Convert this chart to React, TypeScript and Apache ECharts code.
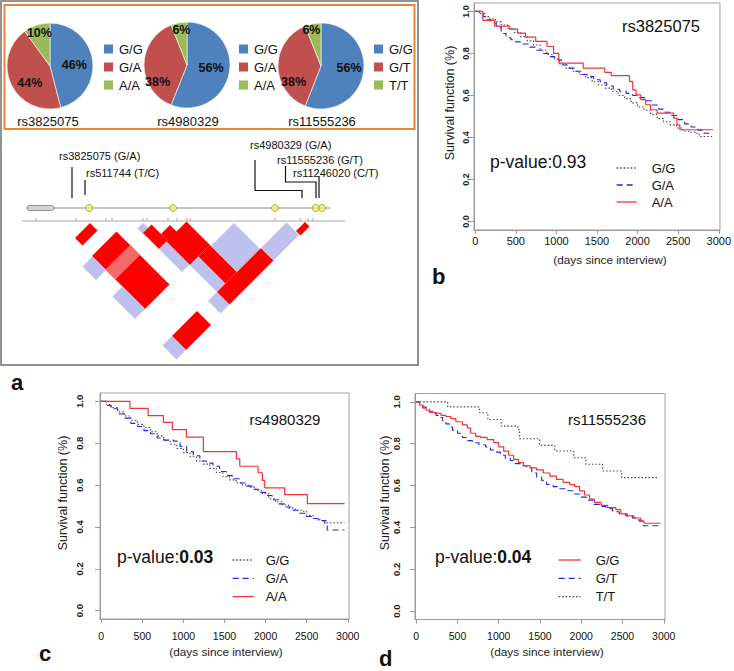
import React, { useEffect, useRef } from 'react';
import * as echarts from 'echarts';

// ---------------- data ----------------
const pieSnps = ['rs3825075', 'rs4980329', 'rs11555236'];
const pieGenotypes = [
  ['G/G', 'G/A', 'A/A'],
  ['G/G', 'G/A', 'A/A'],
  ['G/G', 'G/T', 'T/T'],
];
const piePercents = [
  [46, 44, 10],
  [56, 38, 6],
  [56, 38, 6],
];

const snpAnnotations = ['rs3825075 (G/A)', 'rs511744 (T/C)', 'rs4980329 (G/A)', 'rs11555236 (G/T)', 'rs11246020 (C/T)'];
const snpPositions = [89, 173, 275, 316, 322];
const markerPositions = [36, 76, 106, 112, 143, 147, 168, 177, 187, 190, 275, 300, 308, 313];
// LD blocks: [left marker from, left marker to, right marker from, right marker to, level]
const ldBlocks = [
  [60, 90, 90, 105, 0],
  [59, 108, 125, 231, 0],
  [59, 108, 152, 172, 1],
  [39, 59, 126, 153, 2],
  [39, 59, 186, 231, 2],
  [132, 143, 143, 155, 2],
  [133, 150, 153, 185, 0],
  [150, 168, 172, 186, 0],
  [133, 148, 185, 231, 2],
  [148, 188, 185, 232, 0],
  [148, 165, 232, 286, 2],
  [165, 188, 232, 286, 0],
  [188, 234, 234, 286, 2],
  [130, 148, 286, 311, 2],
  [148, 236, 286, 311, 0],
  [236, 287, 286, 311, 2],
  [288, 306, 304, 313, 0],
  [59, 109, 285, 313, 0],
  [40, 59, 285, 313, 2],
];

const dayTicks = [0, 500, 1000, 1500, 2000, 2500, 3000];
const survTicks = [0, 0.2, 0.4, 0.6, 0.8, 1.0];

// panel b: rs3825075
const bGG = [[0,1],[60,0.99],[120,0.975],[180,0.965],[250,0.95],[320,0.935],[400,0.92],[480,0.9],[560,0.88],[640,0.86],[720,0.84],[800,0.815],[880,0.795],[960,0.775],[1040,0.75],[1120,0.73],[1200,0.715],[1280,0.7],[1360,0.685],[1440,0.665],[1520,0.65],[1600,0.635],[1680,0.62],[1760,0.6],[1840,0.585],[1920,0.565],[2000,0.545],[2080,0.53],[2160,0.51],[2240,0.49],[2320,0.475],[2400,0.46],[2480,0.445],[2560,0.43],[2640,0.425],[2720,0.42],[2760,0.405],[2930,0.405]];
const bGA = [[0,1],[50,0.99],[100,0.975],[150,0.96],[200,0.945],[260,0.925],[320,0.895],[380,0.875],[440,0.865],[500,0.855],[580,0.845],[660,0.83],[740,0.815],[820,0.8],[900,0.785],[980,0.77],[1060,0.745],[1140,0.73],[1220,0.715],[1300,0.7],[1380,0.69],[1460,0.675],[1540,0.66],[1620,0.645],[1700,0.63],[1780,0.62],[1860,0.61],[1940,0.6],[2020,0.59],[2100,0.575],[2180,0.555],[2260,0.535],[2340,0.52],[2420,0.505],[2500,0.485],[2580,0.465],[2660,0.45],[2740,0.435],[2820,0.42],[2930,0.42]];
const bAA = [[0,1],[95,0.957],[240,0.93],[420,0.916],[520,0.897],[620,0.878],[745,0.857],[885,0.833],[965,0.8],[1030,0.754],[1330,0.73],[1595,0.71],[1675,0.694],[1900,0.667],[1940,0.627],[1980,0.603],[2040,0.58],[2100,0.556],[2160,0.532],[2240,0.516],[2445,0.492],[2485,0.46],[2520,0.437],[2930,0.437]];

// panel c: rs4980329
const cGG = [[0,1],[60,0.985],[120,0.97],[200,0.95],[280,0.93],[360,0.91],[440,0.89],[520,0.875],[600,0.855],[680,0.835],[760,0.815],[840,0.795],[920,0.775],[1000,0.755],[1080,0.735],[1160,0.715],[1240,0.7],[1320,0.68],[1400,0.66],[1480,0.64],[1560,0.625],[1640,0.61],[1720,0.6],[1800,0.59],[1880,0.575],[1960,0.56],[2040,0.535],[2120,0.52],[2200,0.505],[2280,0.49],[2360,0.48],[2440,0.475],[2500,0.455],[2580,0.44],[2660,0.43],[2740,0.42],[2960,0.42]];
const cGA = [[0,1],[60,0.98],[120,0.965],[200,0.94],[280,0.92],[360,0.895],[440,0.88],[520,0.86],[600,0.845],[680,0.825],[760,0.815],[880,0.81],[960,0.785],[1040,0.76],[1120,0.74],[1200,0.715],[1280,0.705],[1360,0.69],[1440,0.665],[1520,0.645],[1600,0.63],[1680,0.61],[1760,0.595],[1840,0.58],[1920,0.565],[2000,0.55],[2080,0.53],[2160,0.51],[2240,0.495],[2320,0.48],[2400,0.465],[2480,0.45],[2560,0.44],[2640,0.43],[2720,0.415],[2750,0.385],[2960,0.385]];
const cAA = [[0,1],[350,0.967],[570,0.932],[757,0.9],[866,0.865],[1036,0.829],[1243,0.76],[1645,0.725],[1686,0.69],[1908,0.659],[1961,0.622],[1990,0.587],[2232,0.554],[2508,0.511],[2962,0.511]];

// panel d: rs11555236
const dGG = [[0,1],[40,0.985],[80,0.97],[120,0.96],[160,0.95],[240,0.945],[300,0.935],[360,0.93],[420,0.92],[480,0.905],[560,0.89],[620,0.875],[660,0.85],[720,0.835],[780,0.83],[860,0.82],[940,0.805],[1000,0.785],[1060,0.765],[1120,0.745],[1180,0.725],[1240,0.71],[1300,0.695],[1380,0.685],[1460,0.675],[1540,0.66],[1620,0.645],[1700,0.63],[1780,0.615],[1860,0.605],[1920,0.595],[1980,0.575],[2040,0.555],[2100,0.535],[2160,0.52],[2240,0.505],[2320,0.495],[2420,0.485],[2480,0.465],[2560,0.455],[2640,0.445],[2720,0.43],[2760,0.42],[2960,0.42]];
const dGT = [[0,1],[40,0.985],[80,0.975],[120,0.965],[160,0.955],[200,0.945],[240,0.935],[280,0.925],[320,0.91],[360,0.895],[400,0.88],[440,0.865],[500,0.85],[560,0.83],[620,0.815],[680,0.805],[760,0.795],[840,0.785],[900,0.77],[960,0.76],[1020,0.745],[1080,0.73],[1140,0.72],[1200,0.705],[1280,0.695],[1340,0.685],[1400,0.66],[1460,0.64],[1520,0.625],[1580,0.605],[1660,0.595],[1740,0.585],[1820,0.575],[1900,0.56],[1980,0.545],[2060,0.53],[2140,0.51],[2220,0.5],[2300,0.49],[2380,0.475],[2460,0.465],[2540,0.455],[2620,0.445],[2700,0.43],[2750,0.408],[2960,0.408]];
const dTT = [[0,1],[381,0.976],[766,0.948],[868,0.916],[1030,0.884],[1233,0.868],[1253,0.824],[1496,0.792],[1679,0.765],[1910,0.733],[2056,0.702],[2259,0.67],[2490,0.638],[2936,0.638]];

const pValues = ['0.93', '0.03', '0.04'];

// ---------------- styles ----------------
const FONT = 'Liberation Sans, Arial, Helvetica, sans-serif';
const genotypeColors = ['#4F81BD', '#C0504D', '#9BBB59'];
const ldColors = ['#FF0000', '#F46A6A', '#BEC0EE'];
const RED = '#F03434';
const BLUE = '#2424E8';
const GRAY = '#444444';
const pieCenters = [[50, 66], [187, 65], [321, 66]];
const pieLabelShift = [
  [[0, 2], [2, 7], [-3, -10]],
  [[0, -2], [-5, 17], [-1, -11]],
  [[4, -3], [-3, 16], [-5, -12]],
];
const pieLegendLeft = [102, 237, 372];

const txt = (x: number, y: number, text: string, size: number, extra: any = {}) => ({
  type: 'text', x, y, silent: true,
  style: { text, fontSize: size, fontFamily: FONT, fill: '#111', align: 'left', verticalAlign: 'middle', ...extra },
});
const vtxt = (x: number, y: number, text: string, size: number) => ({
  type: 'text', x, y, rotation: Math.PI / 2, silent: true,
  style: { text, fontSize: size, fontFamily: FONT, fill: '#222', align: 'center', verticalAlign: 'middle' },
});
const seg = (points: number[][]) => ({
  type: 'polyline', silent: true, shape: { points }, style: { stroke: '#111', lineWidth: 1.2, fill: 'none' },
});

function kmX(gridIndex: number, fontSize: number, margin: number) {
  return {
    type: 'value', gridIndex, min: -15, max: 3015,
    axisLine: { show: true, onZero: false, lineStyle: { color: '#999' } },
    axisTick: { show: true, customValues: dayTicks, length: 4, lineStyle: { color: '#999' } },
    axisLabel: {
      show: true, customValues: dayTicks, fontSize, margin, color: '#111', fontFamily: FONT,
      formatter: (v: number) => String(Math.round(v)),
    },
    splitLine: { show: false },
  };
}
function kmY(gridIndex: number, fontSize: number, margin: number) {
  return {
    type: 'value', gridIndex, min: -0.04, max: 1.04,
    axisLine: { show: true, onZero: false, lineStyle: { color: '#999' } },
    axisTick: { show: true, customValues: survTicks, length: 5, lineStyle: { color: '#999' } },
    axisLabel: {
      show: true, customValues: survTicks, rotate: 90, fontWeight: 'bold', fontSize, margin,
      color: '#222', fontFamily: FONT, formatter: (v: number) => v.toFixed(1),
    },
    splitLine: { show: false },
  };
}
function km(name: string, axis: number, data: number[][], kind: string) {
  const style: any = kind === 'dot'
    ? { color: GRAY, width: 1.1, type: [1.5, 2] }
    : kind === 'dash'
      ? { color: BLUE, width: 1.1, type: [6, 4] }
      : { color: RED, width: 1.2, type: 'solid' };
  return {
    type: 'line', name, xAxisIndex: axis, yAxisIndex: axis, data, step: 'end',
    symbol: 'none', showSymbol: false, silent: true, lineStyle: style, itemStyle: { color: style.color },
  };
}
function kmLegend(names: string[], left: number, top: number, gap: number, width: number, textPad: number) {
  return {
    data: names, orient: 'vertical', left, top, padding: 0, itemGap: gap, itemWidth: width, itemHeight: 14,
    selectedMode: false, formatter: (n: string) => n.split(':')[1],
    itemStyle: { opacity: 0, borderWidth: 0 },
    lineStyle: { width: 1.3 },
    textStyle: { fontSize: 13, lineHeight: 14, color: '#111', fontFamily: FONT, padding: [0, 0, 0, textPad] },
  };
}

function buildOption() {
  const pies = pieGenotypes.map((names, i) => ({
    type: 'pie', center: pieCenters[i], radius: 43, startAngle: 90, clockwise: true, silent: true,
    emphasis: { disabled: true },
    itemStyle: { borderColor: '#ffffff', borderWidth: 0.6 },
    label: {
      show: true, position: 'inside', fontWeight: 'bold', fontSize: 12.5, color: '#111', fontFamily: FONT,
      formatter: (p: any) => p.value + '%',
    },
    labelLine: { show: false },
    labelLayout: (p: any) => ({ dx: pieLabelShift[i][p.dataIndex][0], dy: pieLabelShift[i][p.dataIndex][1] }),
    data: names.map((n, j) => ({ name: n, value: piePercents[i][j], itemStyle: { color: genotypeColors[j] } })),
  }));

  const pieLegends = pieGenotypes.map((names, i) => ({
    data: names, orient: 'vertical', left: pieLegendLeft[i], top: 42, padding: 0, icon: 'rect',
    itemWidth: 11, itemHeight: 11, itemGap: 4, selectedMode: false,
    textStyle: { fontSize: 13, lineHeight: 14, color: '#111', fontFamily: FONT },
  }));

  const graphic: any[] = [
    { type: 'rect', silent: true, shape: { x: 1, y: 1, width: 417, height: 364 }, style: { fill: 'none', stroke: '#6f6f6f', lineWidth: 1.5 } },
    { type: 'rect', silent: true, shape: { x: 4.5, y: 5, width: 410, height: 124 }, style: { fill: 'none', stroke: '#E5853A', lineWidth: 2 } },
    txt(48, 121, pieSnps[0], 13, { align: 'center' }),
    txt(188, 121, pieSnps[1], 13, { align: 'center' }),
    txt(322, 121, pieSnps[2], 13, { align: 'center' }),
    // SNP annotation labels
    txt(59, 156, snpAnnotations[0], 11),
    txt(86, 173, snpAnnotations[1], 11),
    txt(250, 145, snpAnnotations[2], 11),
    txt(277, 160, snpAnnotations[3], 11),
    txt(293, 173, snpAnnotations[4], 11),
    seg([[72, 167], [72, 198]]),
    seg([[85, 180], [85, 195]]),
    seg([[255, 160], [255, 190.5], [302, 190.5], [302, 198]]),
    seg([[285.5, 166], [285.5, 182], [316, 182], [316, 198]]),
    seg([[319, 176], [319, 198]]),
    // gene track & LD axis
    { type: 'line', silent: true, shape: { x1: 27, y1: 208, x2: 330, y2: 208 }, style: { stroke: '#8a8a8a', lineWidth: 1 } },
    { type: 'rect', silent: true, shape: { x: 27, y: 205.5, width: 27, height: 5, r: 2.5 }, style: { fill: '#d4d4d4', stroke: '#7a7a7a', lineWidth: 0.8 } },
    { type: 'line', silent: true, shape: { x1: 22, y1: 221, x2: 345, y2: 221 }, style: { stroke: '#a8a8a8', lineWidth: 1 } },
    // KM panel texts
    txt(661, 26, 'rs3825075', 16.5, { align: 'center' }),
    txt(285, 419, 'rs4980329', 15, { align: 'center' }),
    txt(607, 419, 'rs11555236', 15, { align: 'center' }),
    txt(490, 162, 'p-value:' + pValues[0], 17.5),
    {
      type: 'text', x: 117, y: 557, silent: true,
      style: {
        text: '{n|p-value:}{b|' + pValues[1] + '}', verticalAlign: 'middle', align: 'left',
        rich: { n: { fontSize: 17.5, fontFamily: FONT, fill: '#111' }, b: { fontSize: 17.5, fontWeight: 'bold', fontFamily: FONT, fill: '#111' } },
      },
    },
    {
      type: 'text', x: 435, y: 557, silent: true,
      style: {
        text: '{n|p-value:}{b|' + pValues[2] + '}', verticalAlign: 'middle', align: 'left',
        rich: { n: { fontSize: 17.5, fontFamily: FONT, fill: '#111' }, b: { fontSize: 17.5, fontWeight: 'bold', fontFamily: FONT, fill: '#111' } },
      },
    },
    vtxt(450, 103, 'Survival function (%)', 12.5),
    vtxt(63, 493, 'Survival function (%)', 12.5),
    vtxt(385, 493, 'Survival function (%)', 12.5),
    txt(610, 260, '(days since interview)', 11.8, { align: 'center', fill: '#222' }),
    txt(226, 652, '(days since interview)', 11.8, { align: 'center', fill: '#222' }),
    txt(547, 652, '(days since interview)', 11.8, { align: 'center', fill: '#222' }),
    // panel letters
    txt(11, 382, 'a', 22, { fontWeight: 'bold' }),
    txt(432, 276, 'b', 22, { fontWeight: 'bold' }),
    txt(39, 653, 'c', 22, { fontWeight: 'bold' }),
    txt(379, 658, 'd', 22, { fontWeight: 'bold' }),
  ];

  return {
    animation: false,
    backgroundColor: '#ffffff',
    textStyle: { fontFamily: FONT },
    grid: [
      { left: 0, top: 123, width: 400, height: 250, show: false },
      { left: 474, top: 3, width: 249, height: 227, show: true, borderColor: '#a0a0a0', borderWidth: 1 },
      { left: 100, top: 393, width: 249, height: 226, show: true, borderColor: '#a0a0a0', borderWidth: 1 },
      { left: 415, top: 393.5, width: 250, height: 226, show: true, borderColor: '#a0a0a0', borderWidth: 1 },
    ],
    xAxis: [
      { type: 'value', gridIndex: 0, min: 0, max: 400, show: false },
      kmX(1, 11, 5),
      kmX(2, 10.5, 11),
      kmX(3, 10.5, 11),
    ],
    yAxis: [
      { type: 'value', gridIndex: 0, min: -100, max: 150, inverse: true, show: false },
      kmY(1, 9, 3.5),
      kmY(2, 9.5, 15.5),
      kmY(3, 9.5, 13.5),
    ],
    legend: [
      ...pieLegends,
      kmLegend(['b:G/G', 'b:G/A', 'b:A/A'], 616, 161, 3, 20, 10),
      kmLegend(['c:G/G', 'c:G/A', 'c:A/A'], 232, 553, 4.3, 21, 7),
      kmLegend(['d:G/G', 'd:G/T', 'd:T/T'], 558, 553, 4.3, 22, 10),
    ],
    graphic,
    series: [
      ...pies,
      {
        type: 'custom', xAxisIndex: 0, yAxisIndex: 0, silent: true, data: ldBlocks,
        renderItem: (params: any, api: any) => {
          const a0 = api.value(0), a1 = api.value(1), b0 = api.value(2), b1 = api.value(3);
          const lvl = api.value(4);
          const corner = (a: number, b: number) => api.coord([(a + b) / 2, (b - a) / 2]);
          return {
            type: 'polygon',
            shape: { points: [corner(a0, b0), corner(a1, b0), corner(a1, b1), corner(a0, b1)] },
            style: { fill: ldColors[lvl] },
          };
        },
      },
      {
        type: 'scatter', xAxisIndex: 0, yAxisIndex: 0, silent: true, symbol: 'rect', symbolSize: [1, 3],
        itemStyle: { color: '#999' }, data: markerPositions.map((p) => [p, -3.5]),
      },
      {
        type: 'scatter', xAxisIndex: 0, yAxisIndex: 0, silent: true, symbol: 'circle', symbolSize: 7,
        itemStyle: { color: '#F4F46A', borderColor: '#9A9A30', borderWidth: 1 }, data: snpPositions.map((p) => [p, -15]),
      },
      km('b:G/G', 1, bGG, 'dot'),
      km('b:G/A', 1, bGA, 'dash'),
      km('b:A/A', 1, bAA, 'solid'),
      km('c:G/G', 2, cGG, 'dot'),
      km('c:G/A', 2, cGA, 'dash'),
      km('c:A/A', 2, cAA, 'solid'),
      km('d:T/T', 3, dTT, 'dot'),
      km('d:G/T', 3, dGT, 'dash'),
      km('d:G/G', 3, dGG, 'solid'),
    ],
  };
}

export default function App() {
  const ref = useRef<HTMLDivElement>(null);
  useEffect(() => {
    document.body.style.margin = '0';
    if (!ref.current) return;
    const chart = echarts.init(ref.current, null, { renderer: 'svg' });
    chart.setOption(buildOption() as any);
    return () => chart.dispose();
  }, []);
  return <div ref={ref} style={{ width: 734, height: 671 }} />;
}
